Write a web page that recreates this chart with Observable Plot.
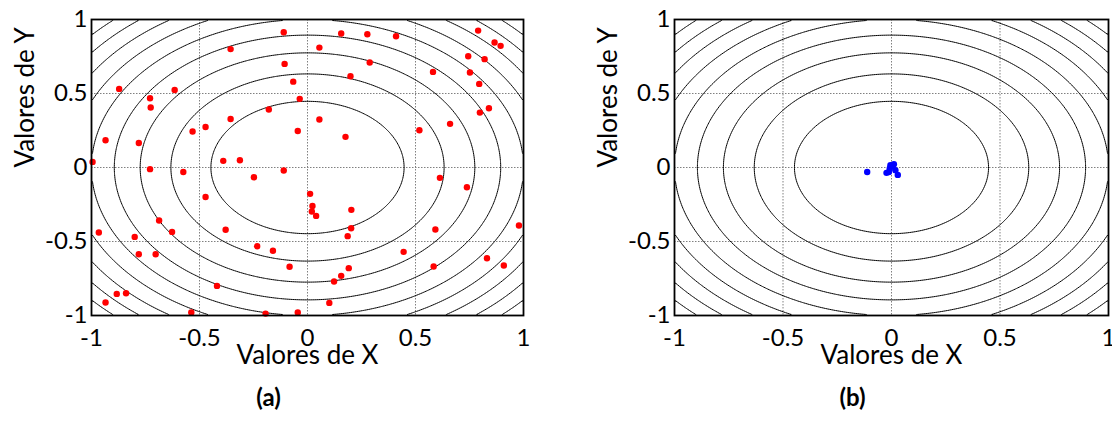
<!DOCTYPE html>
<html><head><meta charset="utf-8">
<script src="https://cdn.jsdelivr.net/npm/d3@7"></script>
<script src="https://cdn.jsdelivr.net/npm/@observablehq/plot@0.6"></script>
<style>
html,body{margin:0;padding:0;background:#fff;overflow:hidden;}
#wrap{position:relative;width:1112px;height:424px;overflow:hidden;}
.panel{position:absolute;top:0;}
</style></head><body>
<div id="wrap"><div class="panel" id="pa" style="left:0"></div><div class="panel" id="pb" style="left:556px"></div></div>
<script>
const axisTicks = [-1, -0.5, 0, 0.5, 1];
const gridTicks = [-0.5, 0, 0.5];
const contourLevels = [0.2, 0.4, 0.6, 0.8, 1.0, 1.2, 1.4, 1.6, 1.8];
const xTitle = "Valores de X";
const yTitle = "Valores de Y";
const captionA = "(a)";
const captionB = "(b)";

const pointsAX = [-0.11,-0.356,0.055,-0.106,-0.066,-0.036,-0.872,-0.615,-0.729,-0.726,-0.179,0.055,-0.356,-0.532,-0.472,-0.045,-0.935,-0.781,-0.995,-0.39,-0.313,-0.729,-0.575,-0.248,-0.11,0.012,-0.472,
  0.156,0.277,0.41,0.79,0.866,0.894,0.744,0.82,0.288,0.199,0.581,0.752,0.795,0.84,0.798,0.66,0.518,0.176,0.613,0.738,
  0.023,0.02,0.04,-0.687,-0.966,-0.627,-0.80,-0.379,-0.781,-0.703,-0.233,-0.16,-0.083,-0.419,-0.883,-0.84,-0.935,-0.538,-0.194,-0.045,0.101,0.203,0.202,0.186,0.445,0.592,0.584,0.191,0.156,0.123,0.831,0.909,0.979];
const pointsAY = [0.914,0.80,0.81,0.70,0.58,0.464,0.531,0.524,0.468,0.405,0.392,0.324,0.328,0.243,0.274,0.247,0.184,0.166,0.038,0.045,0.049,-0.011,-0.03,-0.066,-0.02,-0.178,-0.199,
  0.905,0.90,0.887,0.925,0.845,0.822,0.752,0.732,0.709,0.617,0.646,0.642,0.565,0.40,0.371,0.295,0.252,0.207,-0.07,-0.133,
  -0.26,-0.297,-0.327,-0.358,-0.439,-0.435,-0.469,-0.421,-0.586,-0.586,-0.532,-0.563,-0.671,-0.80,-0.854,-0.85,-0.912,-0.98,-0.987,-0.98,-0.915,-0.286,-0.41,-0.464,-0.57,-0.419,-0.669,-0.68,-0.732,-0.77,-0.613,-0.662,-0.392];

const pointsBX = [-0.112,-0.023,0.003,0.011,-0.008,0.018,0.029,-0.005,-0.012];
const pointsBY = [-0.03,-0.036,0.009,0.022,-0.007,-0.018,-0.05,0.015,-0.03];

const FONT = "Lato, 'Open Sans', sans-serif";
const TICK_FS = 24;
const TITLE_FS = 26;

function makePanel(xs, ys, color, caption, marginLeft, marginRight) {
  const pts = xs.map((x, i) => ({x, y: ys[i]}));
  return Plot.plot({
    width: 556,
    height: 424,
    marginLeft, marginRight,
    marginTop: 19,
    marginBottom: 109,
    style: {fontFamily: FONT, fontSize: TICK_FS + "px", background: "white", overflow: "visible"},
    x: {domain: [-1, 1]},
    y: {domain: [-1, 1]},
    marks: [
      Plot.gridX(gridTicks, {stroke: "#808080", strokeOpacity: 1, strokeDasharray: "1.5,1.5", strokeWidth: 1}),
      Plot.gridY(gridTicks, {stroke: "#808080", strokeOpacity: 1, strokeDasharray: "1.5,1.5", strokeWidth: 1}),
      Plot.contour({
        value: (x, y) => x * x + y * y,
        x1: -1, x2: 1, y1: -1, y2: 1,
        thresholds: contourLevels,
        fill: "none", stroke: "black", strokeWidth: 1
      }),
      Plot.dot(pts, {x: "x", y: "y", r: 3.2, fill: color, stroke: null}),
      Plot.frame({stroke: "black", strokeWidth: 1.8}),
      Plot.axisX(axisTicks, {tickSize: 0, tickPadding: 13, tickFormat: d => String(d), fontSize: TICK_FS, label: null}),
      Plot.axisY(axisTicks, {tickSize: 0, tickPadding: 4, tickFormat: d => String(d), fontSize: TICK_FS, label: null}),
      Plot.text([xTitle], {frameAnchor: "bottom", dy: 48, text: d => d, fontSize: TITLE_FS}),
      Plot.text([yTitle], {frameAnchor: "left", dx: -66, rotate: -90, text: d => d, fontSize: TITLE_FS}),
      Plot.text([caption], {frameAnchor: "bottom", dy: 90, dx: -39, text: d => d, fontSize: 24, fontWeight: "bold"})
    ]
  });
}

document.getElementById("pa").appendChild(makePanel(pointsAX, pointsAY, "#ff0000", captionA, 91, 33));
document.getElementById("pb").appendChild(makePanel(pointsBX, pointsBY, "#0000ff", captionB, 118, 4));
</script>
</body></html>
